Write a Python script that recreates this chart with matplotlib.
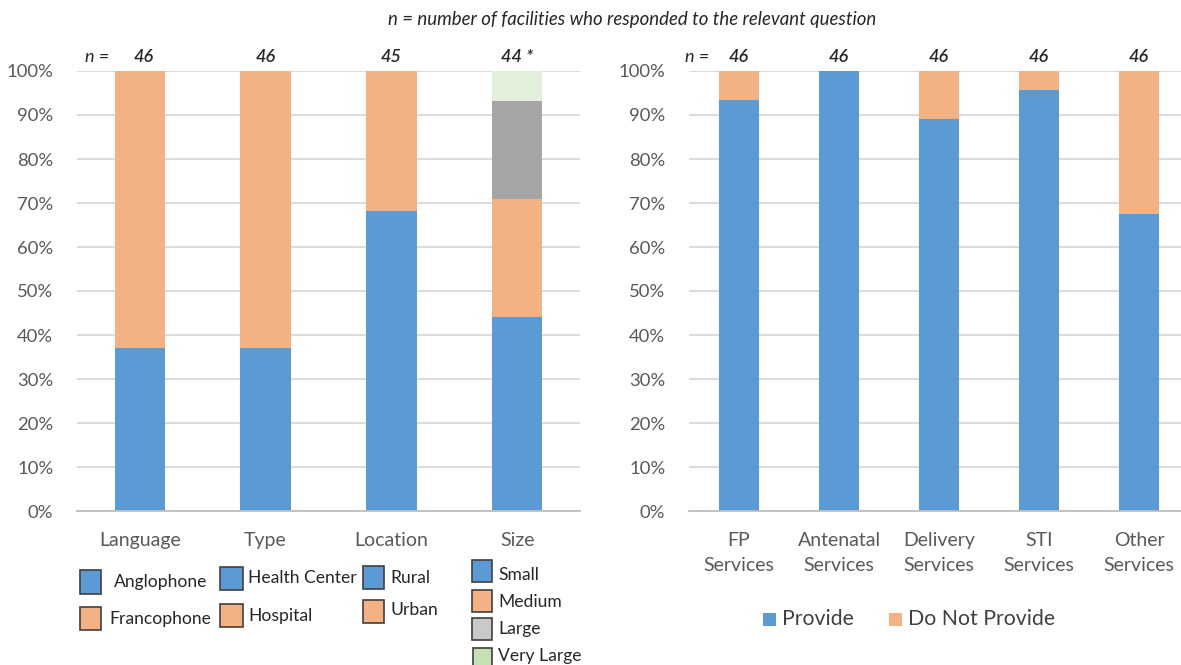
import matplotlib
matplotlib.use("Agg")
import matplotlib.pyplot as plt
from matplotlib.patches import Rectangle

# ---------------- data ----------------
left_categories = ["Language", "Type", "Location", "Size"]
left_n = ["46", "46", "45", "44 *"]
language_vals = [36.96, 63.04]          # Anglophone, Francophone
type_vals = [36.96, 63.04]              # Health Center, Hospital
location_vals = [68.2, 31.8]            # Rural, Urban
size_vals = [44.2, 26.8, 22.1, 6.9]     # Small, Medium, Large, Very Large

right_categories = ["FP\nServices", "Antenatal\nServices", "Delivery\nServices",
                    "STI\nServices", "Other\nServices"]
right_n = ["46", "46", "46", "46", "46"]
provide = [93.5, 100.0, 89.1, 95.7, 67.4]
do_not_provide = [6.5, 0.0, 10.9, 4.3, 32.6]

yticks = [0, 10, 20, 30, 40, 50, 60, 70, 80, 90, 100]
ytick_labels = [f"{v}%" for v in yticks]

# ---------------- style ----------------
BLUE = "#5B9BD5"
ORANGE = "#F4B183"
GRAY = "#A5A5A5"
GREEN = "#E2EFDA"
TXT = "#595959"
GRID = "#D9D9D9"
FONT = ["Lato", "DejaVu Sans"]
plt.rcParams["font.family"] = FONT

W, H = 1181, 665
fig = plt.figure(figsize=(W / 100, H / 100), dpi=100)


def fx(x):
    return x / W


def fy(y):
    return 1 - y / H


def style_axes(ax, ncat, labels):
    ax.set_ylim(0, 100)
    ax.set_xlim(-0.5, ncat - 0.5)
    ax.set_yticks(yticks)
    ax.set_yticklabels(ytick_labels, fontsize=13.3, color=TXT)
    ax.set_xticks(range(ncat))
    ax.set_xticklabels(labels, fontsize=14, color=TXT, linespacing=1.55)
    ax.tick_params(axis="both", length=0)
    ax.tick_params(axis="x", pad=15)
    ax.tick_params(axis="y", pad=17)
    for s in ["top", "right", "left"]:
        ax.spines[s].set_visible(False)
    ax.spines["bottom"].set_color("#BFBFBF")
    ax.spines["bottom"].set_linewidth(1.3)
    ax.grid(axis="y", color=GRID, linewidth=1.3)
    ax.set_axisbelow(True)


# ---------------- left chart ----------------
axL = fig.add_axes([fx(77), fy(511), (580 - 77) / W, 440 / H])
left_series = [
    (language_vals, [BLUE, ORANGE]),
    (type_vals, [BLUE, ORANGE]),
    (location_vals, [BLUE, ORANGE]),
    (size_vals, [BLUE, ORANGE, GRAY, GREEN]),
]
for i, (vals, cols) in enumerate(left_series):
    bottom = 0
    for v, c in zip(vals, cols):
        axL.bar(i, v, bottom=bottom, width=0.4, color=c, edgecolor="none")
        bottom += v
style_axes(axL, len(left_categories), left_categories)
for i, n in enumerate(left_n):
    axL.annotate(n, (i, 100), xytext=(3 if i == 0 else 0, 10), textcoords="offset points",
                 ha="center", va="center", fontsize=13, style="italic",
                 fontweight="semibold", color="#262626")
axL.annotate("n =", (-0.34, 100), xytext=(0, 10), textcoords="offset points",
             ha="center", va="center", fontsize=13, style="italic", color="#262626")

# ---------------- right chart ----------------
axR = fig.add_axes([fx(689), fy(511), 500 / W, 440 / H])
axR.bar(range(len(right_categories)), provide, width=0.4, color=BLUE, edgecolor="none")
axR.bar(range(len(right_categories)), do_not_provide, bottom=provide, width=0.4,
        color=ORANGE, edgecolor="none")
style_axes(axR, len(right_categories), right_categories)
for i, n in enumerate(right_n):
    axR.annotate(n, (i, 100), xytext=(0, 10), textcoords="offset points",
                 ha="center", va="center", fontsize=13, style="italic",
                 fontweight="semibold", color="#262626")
axR.annotate("n =", (-0.42, 100), xytext=(0, 10), textcoords="offset points",
             ha="center", va="center", fontsize=13, style="italic", color="#262626")

# ---------------- title ----------------
fig.text(fx(632), fy(20), "n = number of facilities who responded to the relevant question",
         ha="center", va="center", fontsize=13.4, style="italic", color="#262626")

# ---------------- left custom legend ----------------
LEG_EDGE = "#404040"
legend_items = [
    # (x_box, y_top, w, h, color, x_text, y_text, label)
    (80, 570, 21, 24, BLUE, 114, 582, "Anglophone"),
    (80, 607, 21, 23, ORANGE, 109, 619, "Francophone"),
    (220, 567, 23, 23, BLUE, 248, 578, "Health Center"),
    (220, 604, 23, 23, ORANGE, 248, 616, "Hospital"),
    (363, 566, 21, 23, BLUE, 390, 578, "Rural"),
    (363, 600, 21, 23, ORANGE, 390, 610, "Urban"),
    (472, 560, 20, 22, BLUE, 498, 575, "Small"),
    (472, 590, 20, 22, ORANGE, 498, 602, "Medium"),
    (472, 618, 20, 22, "#C9C9C9", 498, 629, "Large"),
    (473, 648, 19, 20, "#C6E0B4", 498, 656, "Very Large"),
]
for xb, yt, w, h, c, xt, ytx, lab in legend_items:
    fig.add_artist(Rectangle((fx(xb), fy(yt + h)), w / W, h / H, transform=fig.transFigure,
                             facecolor=c, edgecolor=LEG_EDGE, linewidth=1.2))
    fig.text(fx(xt), fy(ytx), lab, ha="left", va="center", fontsize=12.6, color="#262626")

# ---------------- right legend ----------------
for xb, c, xt, lab in [(763, BLUE, 782, "Provide"), (889, ORANGE, 908, "Do Not Provide")]:
    fig.add_artist(Rectangle((fx(xb), fy(626)), 13 / W, 13 / H, transform=fig.transFigure,
                             facecolor=c, edgecolor="none"))
    fig.text(fx(xt), fy(619), lab, ha="left", va="center", fontsize=15.3, color="#404040")

fig.savefig("out.png", dpi=100)
